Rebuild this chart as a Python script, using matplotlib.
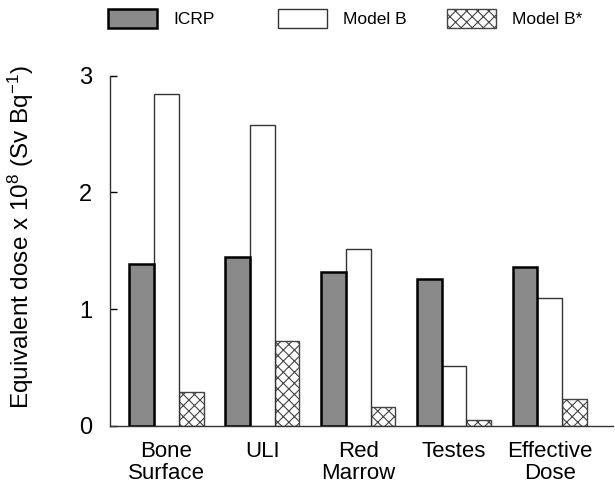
import matplotlib
matplotlib.use("Agg")
import matplotlib.pyplot as plt
import numpy as np
from matplotlib.patches import Patch

plt.rcParams['font.family'] = ['Liberation Sans', 'DejaVu Sans']
plt.rcParams['mathtext.fontset'] = 'custom'
plt.rcParams['mathtext.rm'] = 'Liberation Sans'
plt.rcParams['mathtext.it'] = 'Liberation Sans:italic'
plt.rcParams['mathtext.default'] = 'regular'
plt.rcParams['hatch.linewidth'] = 0.8

categories = ['Bone\nSurface', 'ULI', 'Red\nMarrow', 'Testes', 'Effective\nDose']
icrp = [1.39, 1.45, 1.32, 1.26, 1.36]
model_b = [2.84, 2.58, 1.52, 0.51, 1.10]
model_b_star = [0.29, 0.73, 0.16, 0.05, 0.23]
series_names = ['ICRP', 'Model B', 'Model B*']
yticks = [0, 1, 2, 3]

fig = plt.figure(figsize=(6.15, 4.87), dpi=100)
ax = fig.add_axes([110/615, 1-426/487, 503/615, 350.3/487])

x = np.arange(len(categories))
w = 0.258
styles = [
    dict(facecolor='#8a8a8a', edgecolor='black', linewidth=1.8),
    dict(facecolor='white', edgecolor='#333333', linewidth=1.0),
    dict(facecolor='white', edgecolor='#444444', linewidth=1.0, hatch='xxx'),
]
for i, vals in enumerate([icrp, model_b, model_b_star]):
    ax.bar(x + (i - 1) * w, vals, w, zorder=3 - i * 0.5, **styles[i])

ax.set_xlim(-0.59, 4.66)
ax.set_ylim(0, 3)
ax.set_yticks(yticks)
ax.set_yticklabels([str(t) for t in yticks])
ax.set_xticks(x)
ax.set_xticklabels(categories, fontsize=16, linespacing=1.05)
ax.tick_params(axis='x', length=0, pad=11)
ax.tick_params(axis='y', direction='in', length=5, width=1, labelsize=17, pad=13)
for s in ['top', 'right']:
    ax.spines[s].set_visible(False)
for s in ['left', 'bottom']:
    ax.spines[s].set_color('#333333')
    ax.spines[s].set_linewidth(1.0)

ax.set_ylabel(r'Equivalent dose x 10$^{8}$ (Sv Bq$^{-1}$)', fontsize=17.5)
ax.yaxis.set_label_coords(-0.147, 0.54)

legend_x = [108, 278, 447]
for i, name in enumerate(series_names):
    h = Patch(**styles[i])
    fig.legend(handles=[h], labels=[name], loc='upper left',
               bbox_to_anchor=(legend_x[i]/615, 1 - 9/487),
               frameon=False, fontsize=12.5, handlelength=2.8, handleheight=1.3,
               handletextpad=0.95, borderpad=0, borderaxespad=0)

fig.savefig('out.png', dpi=100)
